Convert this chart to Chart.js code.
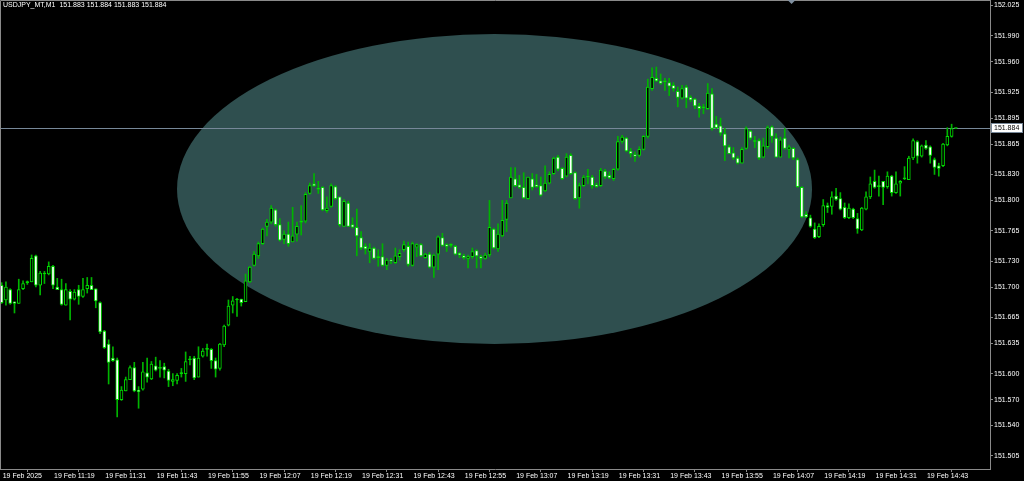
<!DOCTYPE html>
<html><head><meta charset="utf-8">
<script src="https://cdn.jsdelivr.net/npm/chart.js@4.4.1/dist/chart.umd.min.js"></script>
<style>html,body{margin:0;padding:0;background:#000;overflow:hidden}#wrap{width:1024px;height:481px;position:relative}</style>
</head><body><div id="wrap"><canvas id="c" width="1024" height="481"></canvas></div>
<script>
const symbolName = "USDJPY_MT,M1";
const openP = [151.702,151.685,151.697,151.683,151.681,151.698,151.705,151.706,151.736,151.702,151.715,151.715,151.724,151.700,151.697,151.679,151.695,151.686,151.697,151.689,
151.698,151.702,151.698,151.682,151.649,151.634,151.618,151.616,151.570,151.580,151.593,151.607,151.581,151.582,151.601,151.594,151.609,151.606,151.608,151.603,
151.591,151.592,151.600,151.600,151.616,151.618,151.596,151.620,151.628,151.628,151.615,151.606,151.633,151.656,151.679,151.685,151.686,151.683,151.706,151.725,
151.736,151.750,151.770,151.775,151.789,151.772,151.755,151.761,151.752,151.761,151.775,151.776,151.808,151.819,151.813,151.815,151.788,151.793,151.816,151.804,
151.770,151.797,151.772,151.769,151.757,151.747,151.741,151.745,151.734,151.735,151.725,151.731,151.728,151.735,151.743,151.747,151.725,151.746,151.749,151.734,
151.738,151.723,151.738,151.757,151.749,151.748,151.747,151.739,151.736,151.733,151.735,151.742,151.735,151.733,151.737,151.767,151.744,151.759,151.778,151.803,
151.825,151.818,151.815,151.802,151.825,151.818,151.817,151.811,151.820,151.831,151.850,151.837,151.828,151.852,151.832,151.803,151.817,151.827,151.827,151.818,
151.817,151.834,151.829,151.825,151.836,151.868,151.872,151.857,151.853,151.852,151.859,151.874,151.929,151.941,151.938,151.937,151.936,151.933,151.926,151.918,
151.931,151.919,151.917,151.909,151.907,151.906,151.923,151.888,151.886,151.877,151.862,151.855,151.849,151.843,151.860,151.880,151.868,151.869,151.850,151.862,
151.885,151.872,151.850,151.872,151.859,151.860,151.847,151.815,151.784,151.780,151.767,151.758,151.772,151.794,151.793,151.805,151.802,151.792,151.780,151.790,
151.779,151.766,151.790,151.804,151.822,151.816,151.822,151.816,151.828,151.809,151.820,151.825,151.824,151.849,151.868,151.851,151.864,151.862,151.847,151.840,
151.840,151.864,151.874,151.883];
const highP = [151.705,151.706,151.698,151.683,151.709,151.707,151.707,151.737,151.737,151.718,151.718,151.729,151.725,151.710,151.709,151.704,151.697,151.697,151.702,151.710,
151.711,151.711,151.698,151.683,151.650,151.639,151.631,151.618,151.585,151.596,151.609,151.613,151.585,151.613,151.618,151.614,151.619,151.615,151.612,151.605,
151.600,151.600,151.606,151.625,151.620,151.620,151.631,151.629,151.634,151.629,151.618,151.635,151.656,151.685,151.689,151.687,151.686,151.715,151.724,151.741,
151.752,151.768,151.778,151.794,151.790,151.779,151.765,151.775,151.792,151.775,151.794,151.809,151.820,151.831,151.822,151.816,151.804,151.819,151.817,151.804,
151.801,151.799,151.780,151.790,151.764,151.750,151.750,151.746,151.743,151.750,151.733,151.733,151.745,151.743,151.753,151.752,151.752,151.750,151.750,151.739,
151.740,151.738,151.759,151.762,151.750,151.750,151.748,151.740,151.738,151.737,151.745,151.743,151.737,151.739,151.800,151.768,151.773,151.800,151.800,151.838,
151.838,151.829,151.832,151.827,151.831,151.830,151.827,151.840,151.833,151.850,151.852,151.838,151.854,151.854,151.833,151.820,151.829,151.836,151.829,151.820,
151.837,151.836,151.833,151.837,151.874,151.875,151.873,151.860,151.856,151.862,151.875,151.940,151.953,151.954,151.946,151.941,151.941,151.936,151.931,151.933,
151.933,151.921,151.918,151.912,151.911,151.935,151.929,151.897,151.895,151.883,151.864,151.861,151.851,151.861,151.885,151.881,151.874,151.871,151.872,151.886,
151.886,151.877,151.873,151.883,151.864,151.861,151.849,151.816,151.787,151.783,151.774,151.773,151.801,151.797,151.810,151.814,151.809,151.797,151.796,151.791,
151.785,151.792,151.810,151.827,151.835,151.828,151.822,151.833,151.829,151.833,151.823,151.839,151.851,151.871,151.869,151.864,151.869,151.863,151.849,151.843,
151.866,151.884,151.888,151.884];
const lowP = [151.681,151.679,151.680,151.670,151.681,151.697,151.703,151.706,151.700,151.691,151.704,151.714,151.698,151.697,151.679,151.679,151.662,151.685,151.680,151.688,
151.693,151.697,151.676,151.646,151.629,151.588,151.614,151.550,151.569,151.580,151.593,151.579,151.560,151.581,151.590,151.593,151.603,151.596,151.595,151.585,
151.586,151.588,151.596,151.591,151.610,151.593,151.596,151.619,151.620,151.606,151.596,151.604,151.631,151.655,151.670,151.666,151.678,151.683,151.705,151.724,
151.733,151.749,151.759,151.773,151.770,151.753,151.750,151.747,151.752,151.753,151.760,151.774,151.807,151.816,151.808,151.788,151.786,151.792,151.801,151.770,
151.770,151.770,151.768,151.736,151.743,151.738,151.728,151.732,151.724,151.724,151.720,151.727,151.727,151.731,151.741,151.724,151.724,151.735,151.735,151.733,
151.722,151.711,151.720,151.747,151.741,151.746,151.737,151.734,151.732,151.722,151.733,151.722,151.722,151.732,151.735,151.744,151.741,151.758,151.764,151.803,
151.816,151.814,151.802,151.801,151.812,151.815,151.805,151.810,151.819,151.830,151.834,151.824,151.827,151.830,151.801,151.791,151.816,151.819,151.814,151.815,
151.816,151.825,151.825,151.823,151.835,151.866,151.856,151.850,151.845,151.850,151.858,151.872,151.927,151.937,151.934,151.927,151.921,151.926,151.908,151.917,
151.907,151.914,151.906,151.896,151.900,151.905,151.881,151.883,151.875,151.846,151.854,151.847,151.842,151.843,151.859,151.870,151.861,151.847,151.849,151.860,
151.867,151.850,151.850,151.859,151.849,151.847,151.815,151.780,151.780,151.769,151.756,151.757,151.770,151.786,151.784,151.800,151.789,151.779,151.779,151.779,
151.762,151.765,151.789,151.802,151.814,151.805,151.795,151.814,151.805,151.808,151.805,151.824,151.824,151.847,151.843,151.850,151.859,151.843,151.830,151.828,
151.839,151.863,151.873,151.883];
const closeP = [151.682,151.700,151.681,151.681,151.697,151.704,151.705,151.733,151.702,151.716,151.715,151.724,151.702,151.697,151.680,151.697,151.686,151.694,151.689,151.697,
151.702,151.697,151.684,151.648,151.630,151.613,151.615,151.570,151.581,151.593,151.607,151.580,151.579,151.602,151.596,151.611,151.604,151.606,151.604,151.592,
151.593,151.598,151.600,151.614,151.616,151.595,151.618,151.626,151.628,151.615,151.605,151.634,151.655,151.678,151.684,151.685,151.682,151.707,151.723,151.738,
151.750,151.767,151.775,151.791,151.772,151.754,151.761,151.750,151.759,151.770,151.775,151.807,151.817,151.817,151.813,151.789,151.791,151.817,151.802,151.772,
151.799,151.770,151.769,151.759,151.745,151.744,151.745,151.733,151.734,151.725,151.731,151.730,151.736,151.739,151.749,151.726,151.750,151.749,151.736,151.738,
151.723,151.737,151.758,151.748,151.747,151.748,151.738,151.737,151.734,151.735,151.741,151.736,151.733,151.737,151.769,151.745,151.761,151.777,151.797,151.827,
151.817,151.815,151.803,151.827,151.815,151.816,151.806,151.820,151.830,151.849,151.836,151.825,151.850,151.831,151.802,151.817,151.827,151.827,151.817,151.816,
151.835,151.827,151.826,151.836,151.868,151.873,151.857,151.854,151.851,151.859,151.874,151.931,151.942,151.938,151.935,151.937,151.932,151.929,151.919,151.929,
151.918,151.916,151.909,151.906,151.907,151.924,151.883,151.884,151.878,151.863,151.854,151.849,151.843,151.859,151.883,151.872,151.868,151.849,151.863,151.884,
151.874,151.850,151.870,151.860,151.862,151.849,151.816,151.781,151.781,151.770,151.757,151.770,151.794,151.792,151.804,151.801,151.790,151.780,151.791,151.780,
151.767,151.791,151.804,151.819,151.815,151.816,151.815,151.828,151.809,151.819,151.822,151.825,151.849,151.869,151.851,151.863,151.860,151.852,151.838,151.837,
151.865,151.874,151.883,151.884];
const xTickBars = [0,12,24,36,48,60,72,84,96,108,120,132,144,156,168,180,192,204,216];
const xTickLabels = ["19 Feb 2025","19 Feb 11:19","19 Feb 11:31","19 Feb 11:43","19 Feb 11:55","19 Feb 12:07","19 Feb 12:19","19 Feb 12:31","19 Feb 12:43","19 Feb 12:55","19 Feb 13:07","19 Feb 13:19","19 Feb 13:31","19 Feb 13:43","19 Feb 13:55","19 Feb 14:07","19 Feb 14:19","19 Feb 14:31","19 Feb 14:43"];
const yTickValues = [152.025,151.990,151.960,151.925,151.895,151.865,151.830,151.800,151.765,151.730,151.700,151.665,151.635,151.600,151.570,151.540,151.505];
const bidPrice = 151.884;
const ellipseShape = { centerBar: 115.18, centerPrice: 151.8132, radiusBars: 74.2, radiusPrice: 0.179 };
const shiftMarkerBar = 184.6;

const FONT = { family: "'Liberation Sans', Arial, sans-serif", size: 7 };
const AXIS_COLOR = '#8a8a8a';
const WICK = '#00b400';
const EDGE = '#00dc00';

const wickData = openP.map((o, i) => ({ x: i, y: [lowP[i], highP[i]] }));
const bodyData = openP.map((o, i) => ({ x: i, y: [o, closeP[i]] }));
const bodyFill = openP.map((o, i) => closeP[i] < o ? '#ffffff' : (closeP[i] > o ? '#000000' : EDGE));

const bgPlugin = {
  id: 'bg',
  beforeDraw(chart) {
    const ctx = chart.ctx;
    ctx.save(); ctx.fillStyle = '#000'; ctx.fillRect(0, 0, chart.width, chart.height); ctx.restore();
  },
  beforeDatasetsDraw(chart) {
    const { ctx, chartArea: a, scales: { x, y } } = chart;
    ctx.save();
    ctx.beginPath(); ctx.rect(a.left, a.top, a.right - a.left, a.bottom - a.top); ctx.clip();
    const cx = x.getPixelForValue(ellipseShape.centerBar);
    const cy = y.getPixelForValue(ellipseShape.centerPrice);
    const rx = x.getPixelForValue(ellipseShape.centerBar + ellipseShape.radiusBars) - cx;
    const ry = cy - y.getPixelForValue(ellipseShape.centerPrice + ellipseShape.radiusPrice);
    ctx.fillStyle = '#2f4f4f';
    ctx.beginPath(); ctx.ellipse(cx, cy, rx, ry, 0, 0, Math.PI * 2); ctx.fill();
    const by = Math.round(y.getPixelForValue(bidPrice)) + 0.5;
    ctx.strokeStyle = '#778899'; ctx.lineWidth = 1;
    ctx.beginPath(); ctx.moveTo(a.left, by); ctx.lineTo(a.right, by); ctx.stroke();
    ctx.restore();
  },
  afterDraw(chart) {
    const { ctx, chartArea: a, scales: { x, y } } = chart;
    ctx.save();
    ctx.strokeStyle = AXIS_COLOR; ctx.lineWidth = 1;
    ctx.beginPath();
    ctx.moveTo(a.left + 0.5, a.bottom); ctx.lineTo(a.left + 0.5, a.top + 0.5); ctx.lineTo(a.right, a.top + 0.5);
    ctx.stroke();
    // shift marker
    const mx = x.getPixelForValue(shiftMarkerBar);
    ctx.fillStyle = '#8090a0';
    ctx.beginPath(); ctx.moveTo(mx - 4, a.top); ctx.lineTo(mx + 4, a.top); ctx.lineTo(mx, a.top + 4); ctx.closePath(); ctx.fill();
    // bid label
    const by = Math.round(y.getPixelForValue(bidPrice));
    ctx.fillStyle = '#ffffff';
    ctx.fillRect(a.right + 1, by - 5, 32, 10);
    ctx.strokeStyle = '#778899';
    ctx.strokeRect(a.right + 1.5, by - 4.5, 31, 9);
    ctx.fillStyle = '#000';
    ctx.font = FONT.size + 'px ' + FONT.family;
    ctx.textBaseline = 'middle'; ctx.textAlign = 'left';
    ctx.fillText(bidPrice.toFixed(3), a.right + 4, by + 0.5);
    // title
    const n = openP.length - 1;
    const title = symbolName + '  ' + [openP[n], highP[n], lowP[n], closeP[n]].map(v => v.toFixed(3)).join(' ');
    ctx.fillStyle = '#ffffff';
    ctx.textBaseline = 'top';
    ctx.fillText(title, a.left + 3, a.top + 2);
    ctx.restore();
  }
};

new Chart(document.getElementById('c'), {
  type: 'bar',
  data: {
    datasets: [
      { label: 'wick', data: wickData, backgroundColor: WICK, barThickness: 1, grouped: false, order: 2, borderWidth: 0 },
      { label: 'body', data: bodyData, backgroundColor: bodyFill, borderColor: EDGE, borderWidth: 1, borderSkipped: false, barThickness: 3, minBarLength: 1, grouped: false, order: 1 }
    ]
  },
  options: {
    responsive: false,
    animation: false,
    devicePixelRatio: 1,
    layout: { padding: 0 },
    plugins: { legend: { display: false }, tooltip: { enabled: false }, title: { display: false } },
    scales: {
      x: {
        type: 'linear', min: -0.386, max: 230.97, offset: false,
        grid: { display: true, drawOnChartArea: false, drawTicks: true, tickLength: 3, color: AXIS_COLOR },
        border: { display: true, color: AXIS_COLOR },
        ticks: { color: '#ffffff', font: FONT, align: 'start', maxRotation: 0, minRotation: 0, autoSkip: false, labelOffset: 1, padding: 0,
          callback: (v, i) => xTickLabels[i] ?? '' },
        afterBuildTicks: (s) => { s.ticks = xTickBars.map(v => ({ value: v })); },
        afterFit: (s) => { s.height = 12; s.paddingLeft = 0; s.paddingRight = 0; }
      },
      y: {
        type: 'linear', position: 'right', min: 151.48984, max: 152.03141,
        grid: { display: true, drawOnChartArea: false, drawTicks: true, tickLength: 3, color: AXIS_COLOR },
        border: { display: true, color: AXIS_COLOR },
        ticks: { color: '#ffffff', font: FONT, crossAlign: 'near', padding: 1, autoSkip: false,
          callback: (v) => Number(v).toFixed(3) },
        afterBuildTicks: (s) => { s.ticks = yTickValues.map(v => ({ value: v })); },
        afterFit: (s) => { s.width = 34; s.paddingTop = 0; s.paddingBottom = 0; }
      }
    }
  },
  plugins: [bgPlugin]
});
</script>
</body></html>
